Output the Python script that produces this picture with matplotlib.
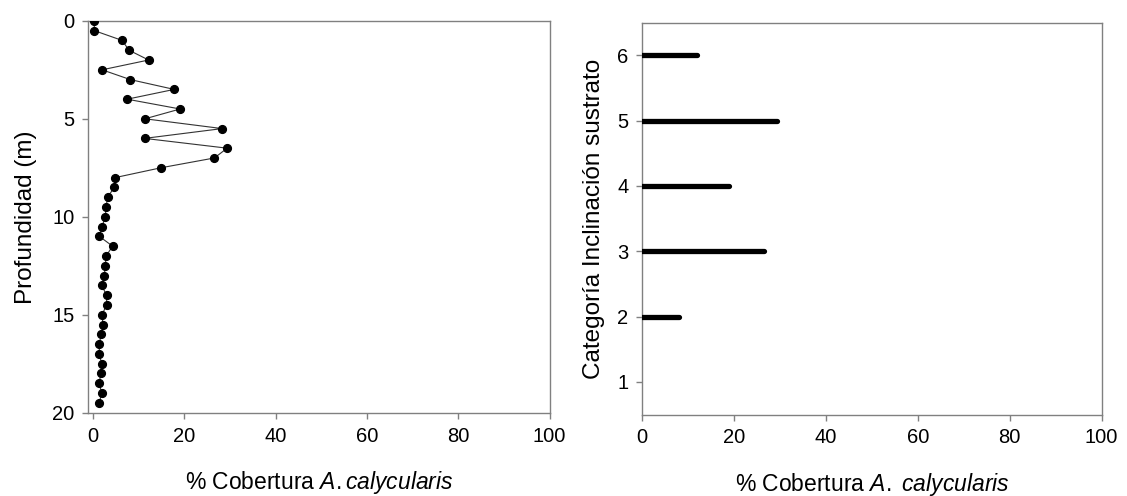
import numpy as np
import matplotlib
matplotlib.use("Agg")
import matplotlib.pyplot as plt

plt.rcParams['font.family'] = ['Liberation Sans', 'DejaVu Sans']
plt.rcParams['mathtext.fontset'] = 'custom'
plt.rcParams['mathtext.rm'] = 'Liberation Sans'
plt.rcParams['mathtext.it'] = 'Liberation Sans:italic'

# cobertura por profundidad (cada 0.5 m)
profundidad = [0.0, 0.5, 1.0, 1.5, 2.0, 2.5, 3.0, 3.5, 4.0, 4.5,
               5.0, 5.5, 6.0, 6.5, 7.0, 7.5, 8.0, 8.5, 9.0, 9.5,
               10.0, 10.5, 11.0, 11.5, 12.0, 12.5, 13.0, 13.5, 14.0, 14.5,
               15.0, 15.5, 16.0, 16.5, 17.0, 17.5, 18.0, 18.5, 19.0, 19.5]
cobertura = [0.3, 0.3, 6.4, 7.9, 12.2, 2.0, 8.2, 17.8, 7.5, 19.1,
             11.4, 28.3, 11.3, 29.4, 26.6, 14.9, 4.9, 4.7, 3.2, 2.9,
             2.7, 2.0, 1.4, 4.3, 2.9, 2.7, 2.5, 1.9, 3.0, 3.0,
             2.0, 2.2, 1.8, 1.4, 1.4, 1.9, 1.7, 1.4, 1.9, 1.4]

# cobertura por categoria de inclinacion
categoria = [2, 3, 4, 5, 6]
cob_cat = [8.0, 26.5, 18.9, 29.3, 12.0]

FS_TICK = 14.5
FS_XLAB = 16.5
FS_YLAB = 17.5
GRIS = '#808080'

fig = plt.figure(figsize=(11.27, 4.96), dpi=100)
ax1 = fig.add_axes([0.0784, 0.168, 0.4092, 0.790])
ax2 = fig.add_axes([0.5699, 0.1643, 0.4076, 0.790])

ax1.plot(cobertura, profundidad, '-', color='#333333', lw=0.8, zorder=2)
ax1.plot(cobertura, profundidad, 'o', color='black', ms=5.6, zorder=3)
ax1.set_xlim(-1, 100)
ax1.set_ylim(20, 0)
ax1.set_yticks([0, 5, 10, 15, 20])
ax1.set_xticks([0, 20, 40, 60, 80, 100])
ax1.set_ylabel('Profundidad (m)', fontsize=FS_YLAB, labelpad=11)
ax1.set_xlabel('% Cobertura $\\mathit{A.calycularis}$', fontsize=FS_XLAB, labelpad=17)

ax2.hlines(categoria, 0, cob_cat, colors='black', lw=3.8, capstyle='round', zorder=3)
ax2.set_xlim(0, 100)
ax2.set_ylim(0.5, 6.5)
ax2.set_yticks([1, 2, 3, 4, 5, 6])
ax2.set_xticks([0, 20, 40, 60, 80, 100])
ax2.set_ylabel('Categoría Inclinación sustrato', fontsize=FS_YLAB, labelpad=9)
ax2.set_xlabel('% Cobertura $\\mathit{A.}$ $\\mathit{calycularis}$', fontsize=FS_XLAB, labelpad=17)

for ax in (ax1, ax2):
    for s in ax.spines.values():
        s.set_color(GRIS)
        s.set_linewidth(1.0)
    ax.tick_params(direction='out', length=4, width=1, color=GRIS,
                   labelsize=FS_TICK, pad=6)

fig.savefig('out.png', dpi=100)
